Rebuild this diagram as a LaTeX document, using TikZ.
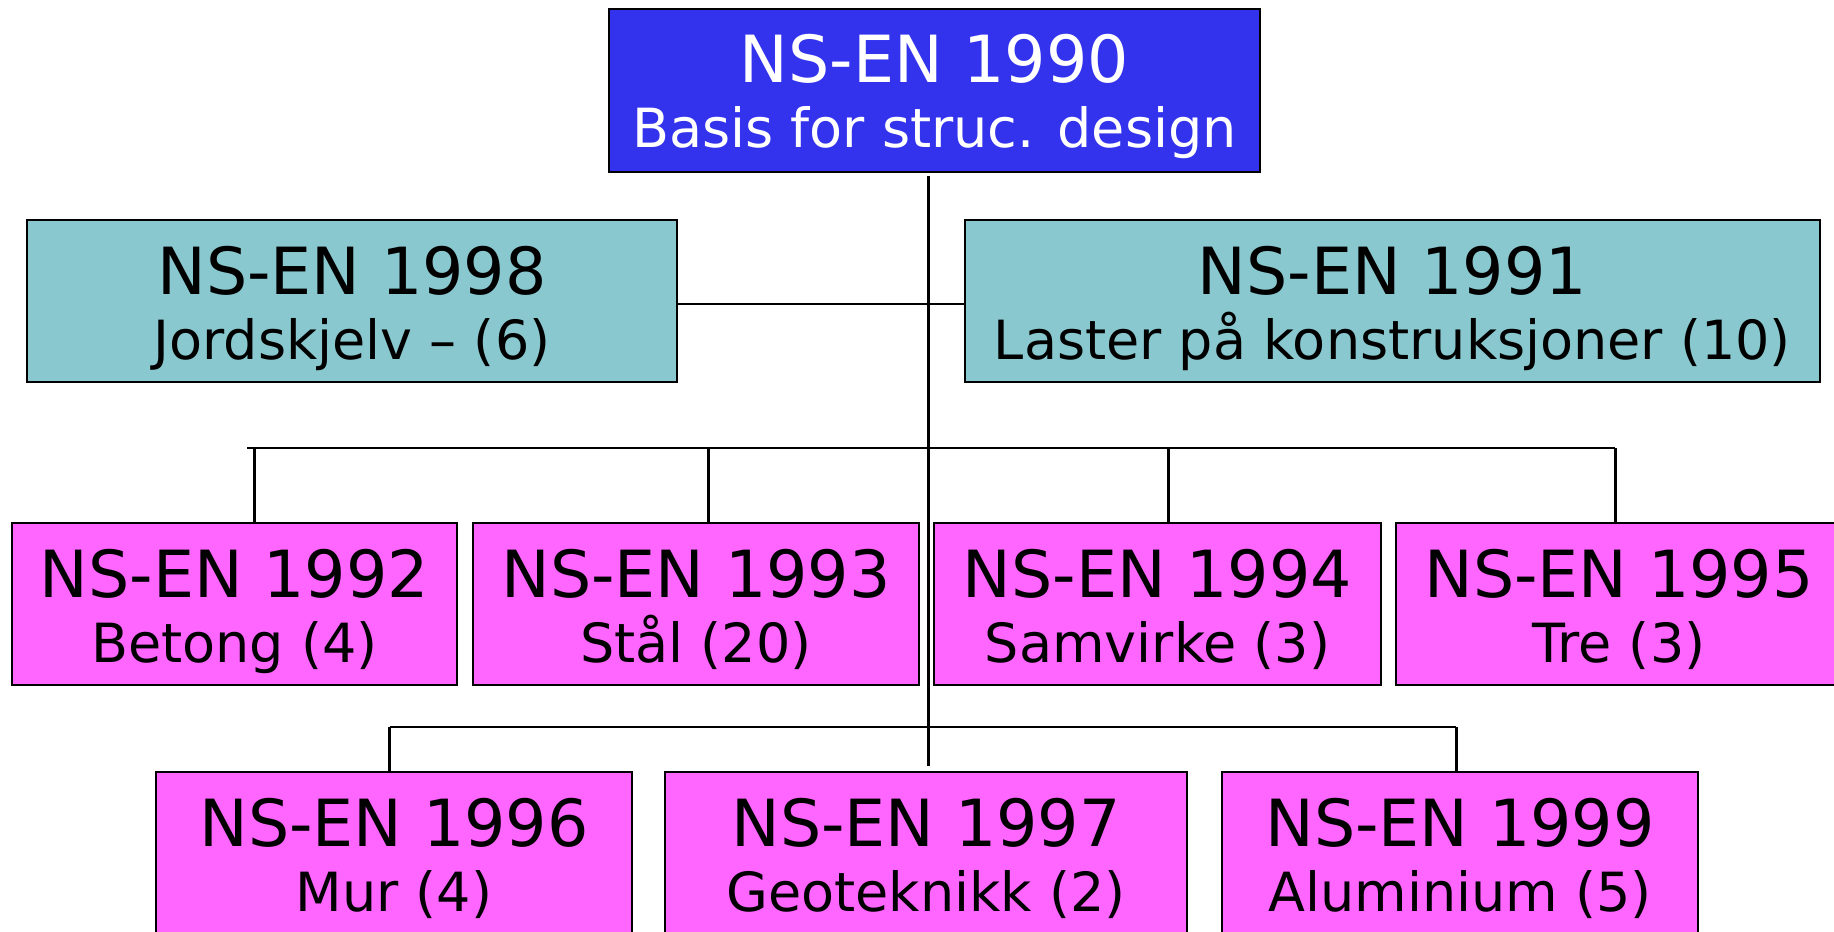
\documentclass[tikz,border=0pt]{standalone}
\usepackage{fontspec}
\setmainfont{DejaVu Sans}
\usetikzlibrary{calc}
\definecolor{topblue}{RGB}{51,51,238}
\definecolor{tealbox}{RGB}{136,200,206}
\definecolor{pinkbox}{RGB}{255,102,255}
\tikzset{
  ebox/.style={draw=black, line width=1.4pt, rectangle, inner sep=0pt, outer sep=0pt},
  titletext/.style={anchor=base, inner sep=0pt, font=\fontsize{32.5}{39}\selectfont},
  subtext/.style={anchor=base, inner sep=0pt, font=\fontsize{27}{32}\selectfont},
  vline/.style={line width=1.5pt},
  hline/.style={line width=1pt},
}
% \mkbox{name}{left}{top}{right}{bottom}{fill}{text colour}{line1}{line2}
\newcommand{\mkbox}[9]{%
  \node[ebox, fill=#6, minimum width={(#4-#2)*0.5pt}, minimum height={(#5-#3)*0.5pt}]
    (#1) at ({(#2+#4)/2},{(#3+#5)/2}) {};
  \node[titletext, text=#7] (#1-a) at ({(#2+#4)/2},{#3+74}) {#8};
  \node[subtext, text=#7] (#1-b) at ({(#2+#4)/2},{#3+139}) {#9};
}
\begin{document}
\begin{tikzpicture}[x=0.5pt, y=-0.5pt]
\useasboundingbox (0,0) rectangle (1834,931);
\clip (0,0) rectangle (1834,931);
\fill[white] (0,0) rectangle (1834,931);

\coordinate (trunkend) at (928,766);
\coordinate (linky) at (928,304);
\coordinate (busL) at (247,448);
\coordinate (j1992) at (254,448);
\coordinate (j1993) at (708,448);
\coordinate (j1994) at (1168,448);
\coordinate (j1995) at (1615,448);
\coordinate (j1996) at (389.5,727);
\coordinate (j1999) at (1456,727);

\mkbox{b1990}{609}{9}{1260}{172}{topblue}{white}{NS-EN 1990}{Basis for struc. design}
\mkbox{b1998}{27}{220}{677}{382}{tealbox}{black}{NS-EN 1998}{Jordskjelv – (6)}
\mkbox{b1991}{965}{220}{1820}{382}{tealbox}{black}{NS-EN 1991}{Laster på konstruksjoner (10)}
\mkbox{b1992}{12}{523}{457}{685}{pinkbox}{black}{NS-EN 1992}{Betong (4)}
\mkbox{b1993}{473}{523}{919}{685}{pinkbox}{black}{NS-EN 1993}{Stål (20)}
\mkbox{b1994}{934}{523}{1381}{685}{pinkbox}{black}{NS-EN 1994}{Samvirke (3)}
\mkbox{b1995}{1396}{523}{1842}{685}{pinkbox}{black}{NS-EN 1995}{Tre (3)}
\mkbox{b1996}{156}{772}{632}{934}{pinkbox}{black}{NS-EN 1996}{Mur (4)}
\mkbox{b1997}{665}{772}{1187}{934}{pinkbox}{black}{NS-EN 1997}{Geoteknikk (2)}
\mkbox{b1999}{1222}{772}{1698}{934}{pinkbox}{black}{NS-EN 1999}{Aluminium (5)}

% trunk
\draw[vline] ($(b1990.south -| trunkend)+(0,4)$) -- (trunkend);
% link between 1998 and 1991
\draw[hline] (b1998.east |- linky) -- (b1991.west |- linky);
% first bus
\draw[hline] (busL) -- (j1995);
\draw[vline] (j1992) -- (j1992 |- b1992.north);
\draw[vline] (j1993) -- (j1993 |- b1993.north);
\draw[vline] (j1994) -- (j1994 |- b1994.north);
\draw[vline] (j1995) -- (j1995 |- b1995.north);
% second bus
\draw[hline] (j1996) -- (j1999);
\draw[vline] (j1996) -- (j1996 |- b1996.north);
\draw[vline] (j1999) -- (j1999 |- b1999.north);
\end{tikzpicture}
\end{document}
